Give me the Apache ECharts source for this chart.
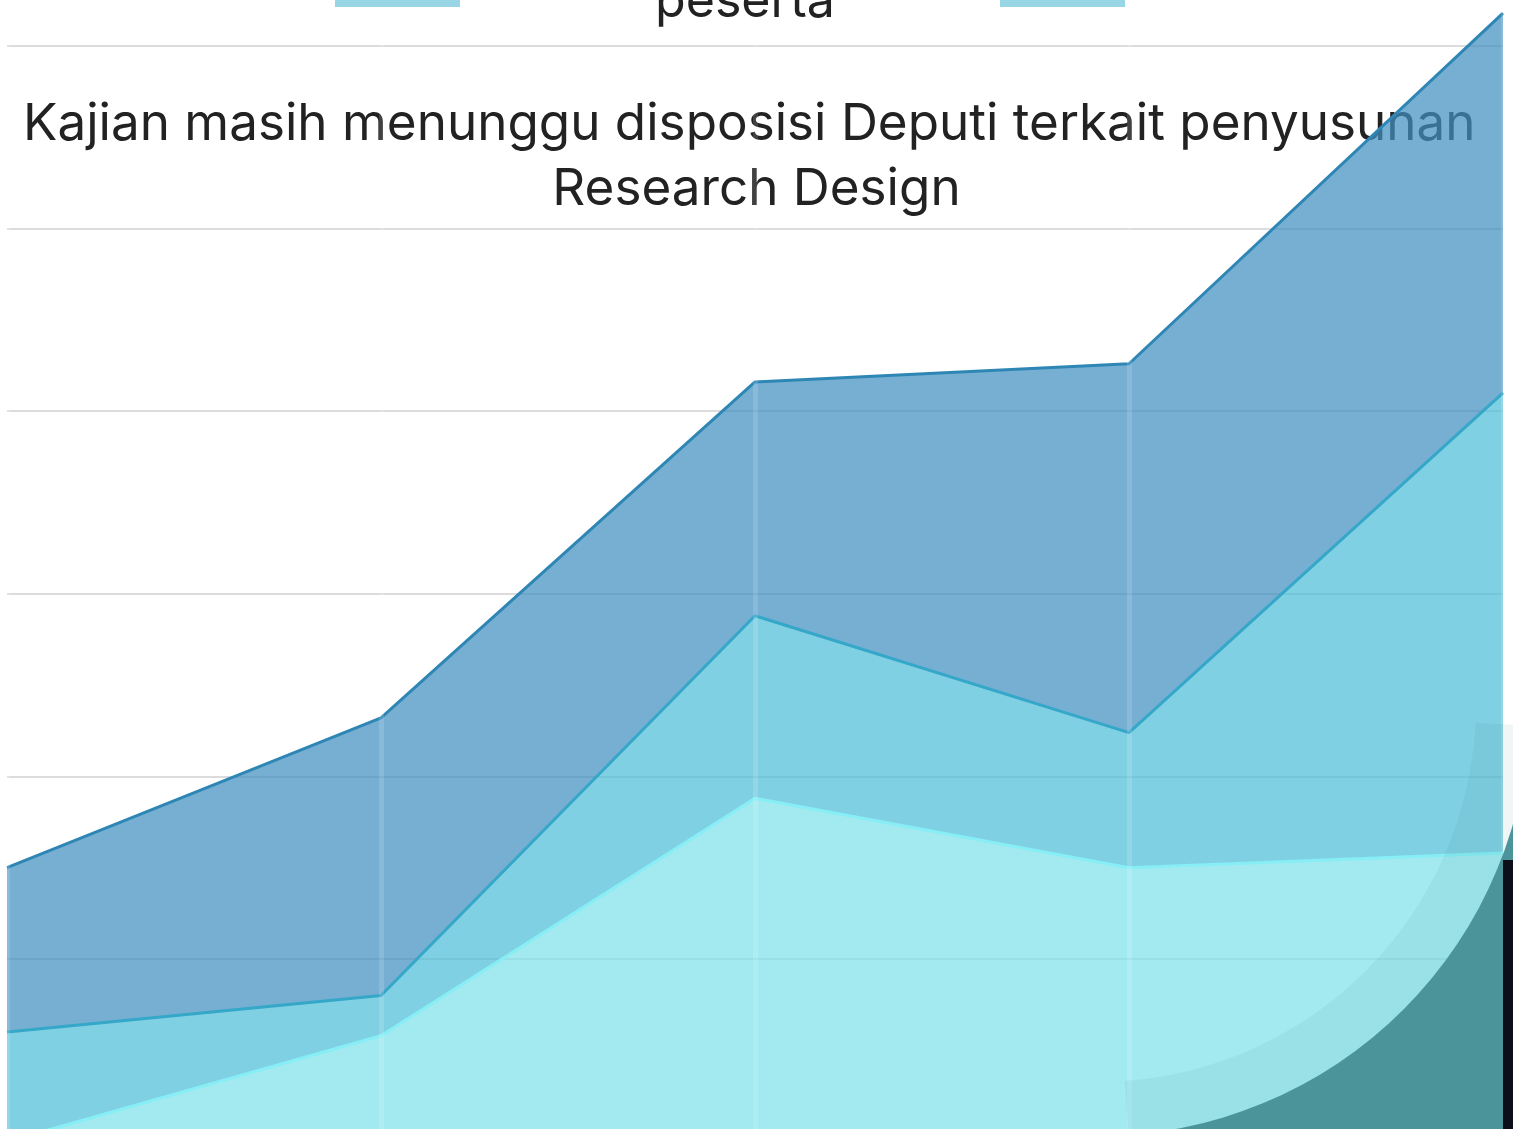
<!DOCTYPE html>
<html>
<head>
<meta charset="utf-8">
<script src="https://cdn.jsdelivr.net/npm/echarts@6/dist/echarts.min.js"></script>
<style>
html,body{margin:0;padding:0;background:#ffffff;overflow:hidden}
#chart{width:1513px;height:1129px}
</style>
</head>
<body>
<div id="chart"></div>
<script>
// ---- data ----
const categories = ['1', '2', '3', '4', '5'];
const seriesNames = [
  'peserta',
  'Kajian dalam proses',
  'Kajian masih menunggu disposisi Deputi terkait penyusunan Research Design'
];
const bottomValues = [0, 2.9, 9.4, 7.5, 7.9];
const middleValues = [3.0, 1.1, 5.0, 3.7, 12.6];
const topValues = [4.5, 7.6, 6.4, 10.1, 10.4];
const yAxisMin = 0;
const yAxisMax = 35;
const yAxisStep = 5;

// ---- styling ----
const FONT = 'Inter';
function fitSize(text, target) {
  const ctx = document.createElement('canvas').getContext('2d');
  ctx.font = '100px ' + FONT;
  return 100 * target / ctx.measureText(text).width;
}
const titleSize = fitSize('Kajian masih menunggu disposisi Deputi terkait penyusunan', 1453);
const legendSize = fitSize('peserta', 180);

const lineColors = ['#86eef4', '#35a7c8', '#2e86b5'];
const areaColors = ['rgba(126,226,234,0.72)', 'rgba(79,190,217,0.72)', 'rgba(67,144,194,0.72)'];
const valueSets = [bottomValues, middleValues, topValues];

const chart = echarts.init(document.getElementById('chart'), null, {renderer: 'canvas'});

chart.setOption({
  animation: false,
  backgroundColor: '#ffffff',
  title: {
    text: seriesNames[2],
    left: 'center',
    top: 92,
    padding: 0,
    z: 0,
    textStyle: {
      fontFamily: FONT,
      fontSize: titleSize,
      fontWeight: 'normal',
      color: '#222222',
      lineHeight: 65,
      width: 1490,
      overflow: 'break'
    }
  },
  legend: {
    data: [seriesNames[0], seriesNames[1]],
    left: 335,
    top: -95.5,
    width: 1450,
    padding: 0,
    orient: 'horizontal',
    icon: 'rect',
    itemWidth: 125,
    itemHeight: 75,
    itemGap: -25,
    itemStyle: {color: '#98d6e6', opacity: 1, borderWidth: 0},
    formatter: function (name) {
      return name === seriesNames[0] ? '{n|}\n{n|' + name + '}' : '{n|' + name + '}';
    },
    textStyle: {
      fontFamily: FONT,
      fontSize: legendSize,
      color: '#222222',
      lineHeight: 65,
      rich: {
        n: {width: 560, align: 'center', fontFamily: FONT, fontSize: legendSize, lineHeight: 65, color: '#222222'}
      }
    }
  },
  grid: {left: 7, right: 10, top: -136.6, bottom: -12.6, containLabel: false, outerBoundsMode: 'none'},
  xAxis: {
    type: 'category',
    data: categories,
    boundaryGap: false,
    z: 3,
    axisLine: {show: false},
    axisTick: {show: false},
    axisLabel: {show: false},
    splitLine: {show: true, lineStyle: {color: 'rgba(255,255,255,0.14)', width: 5}}
  },
  yAxis: {
    type: 'value',
    min: yAxisMin,
    max: yAxisMax,
    interval: yAxisStep,
    axisLine: {show: false},
    axisTick: {show: false},
    axisLabel: {show: false},
    splitLine: {show: true, lineStyle: {color: '#dcdcdc', width: 2}}
  },
  series: valueSets.map(function (vals, i) {
    return {
      name: seriesNames[i],
      type: 'line',
      stack: 'total',
      data: vals,
      symbol: 'none',
      showSymbol: false,
      z: 2,
      lineStyle: {color: lineColors[i], width: 3},
      itemStyle: {color: lineColors[i]},
      areaStyle: {color: areaColors[i], opacity: 1},
      emphasis: {disabled: true}
    };
  }),
  // decorative overlay in the lower-right corner (not data)
  graphic: [
    {
      type: 'sector', silent: true, z: 10,
      shape: {cx: 1098, cy: 704, r0: 378, r: 432, startAngle: 0.05, endAngle: 1.5},
      style: {fill: 'rgba(40,110,120,0.07)'}
    },
    {
      type: 'sector', silent: true, z: 10,
      shape: {cx: 1098, cy: 704, r0: 432, r: 1200, startAngle: 0, endAngle: Math.PI / 2},
      style: {fill: '#4b9499'}
    },
    {
      type: 'rect', silent: true, z: 11,
      shape: {x: 1503, y: 860, width: 10, height: 269},
      style: {fill: '#0a0f1a'}
    }
  ]
});
</script>
</body>
</html>
